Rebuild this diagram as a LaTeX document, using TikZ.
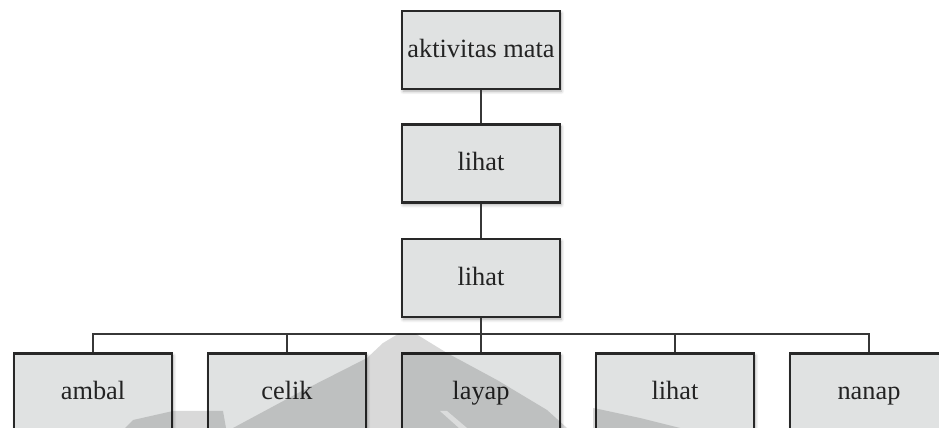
\documentclass[tikz,border=0pt]{standalone}
\usepackage{fontspec}
\setmainfont{Liberation Serif}
\usetikzlibrary{shadows.blur}
\definecolor{boxfill}{RGB}{224,226,226}
\definecolor{boxline}{RGB}{40,40,40}
\definecolor{linkline}{RGB}{55,55,55}
\definecolor{labeltext}{RGB}{35,35,35}
\begin{document}
\begin{tikzpicture}[x=0.02cm, y=-0.02cm,
  termbox/.style={draw=boxline, line width=1.6pt, fill=boxfill,
    minimum width=3.16cm, minimum height=1.56cm, inner sep=0pt,
    text height=1.75ex, text depth=0pt,
    font=\fontsize{15}{17}\selectfont, text=labeltext,
    blur shadow={shadow xshift=0.7pt, shadow yshift=-1.3pt,
      shadow blur steps=6, shadow opacity=35}},
  link/.style={draw=linkline, line width=1.3pt},
  watermark/.style={fill=black, opacity=0.15}]
\useasboundingbox (0,0) rectangle (939,428);
\clip (0,0) rectangle (939,428);

% hierarchy: the eye activity and its verbs
\node[termbox] (root) at (481,50)    {aktivitas mata};
\node[termbox] (see1) at (481,163.5) {lihat};
\node[termbox] (see2) at (481,278)   {lihat};
\node[termbox] (ambal) at (93,392.5)  {ambal};
\node[termbox] (celik) at (287,392.5) {celik};
\node[termbox] (layap) at (481,392.5) {layap};
\node[termbox] (lihat) at (675,392.5) {lihat};
\node[termbox] (nanap) at (869,392.5) {nanap};

% connectors
\coordinate (bus) at (481,334);
\draw[link] (root.south) -- (see1.north);
\draw[link] (see1.south) -- (see2.north);
\draw[link] (see2.south) -- (bus);
\draw[link] (ambal.north) |- (bus) -| (nanap.north);
\draw[link] (celik.north) -- (celik.north |- bus);
\draw[link] (layap.north) -- (layap.north |- bus);
\draw[link] (lihat.north) -- (lihat.north |- bus);

% faint emblem in the background
\fill[watermark] (398,334) -- (416,334) -- (447,353) -- (497,380)
  -- (547,410) -- (567,428) -- (233,428) -- (300,392) -- (367,358)
  -- (383,343) -- cycle;
\fill[white, opacity=0.45] (440,411) -- (447,411) -- (467,428) -- (459,428) -- cycle;
\fill[watermark] (125,428) -- (133,420) -- (173,411) -- (223,411)
  -- (226,428) -- cycle;
\fill[watermark] (593,408) -- (603,410) -- (640,418) -- (680,428)
  -- (593,428) -- cycle;
\end{tikzpicture}
\end{document}
